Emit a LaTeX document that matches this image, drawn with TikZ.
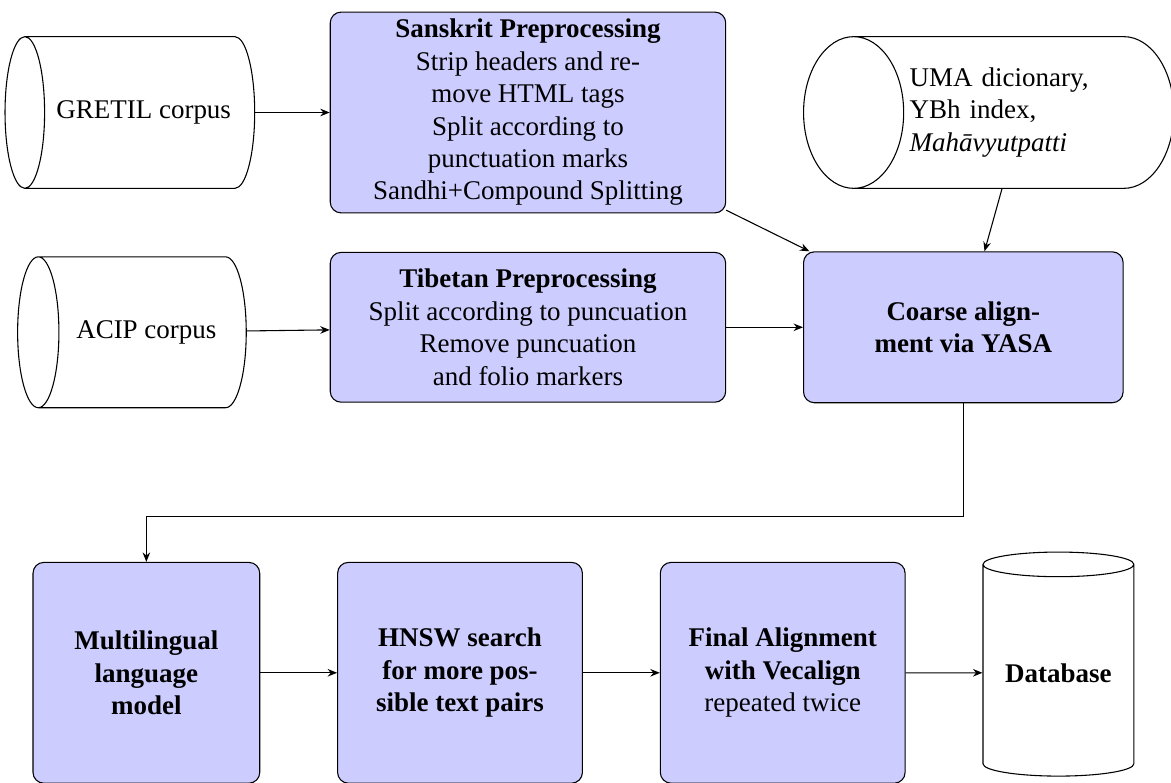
\documentclass[tikz,border=0pt]{standalone}
\usepackage{fontspec}
\setmainfont{Liberation Serif}
\usetikzlibrary{arrows.meta,positioning,shapes.geometric}

\begin{document}
\begin{tikzpicture}[
  node distance=0.5cm and 1cm,
  proc/.style={draw=black, fill=blue!20, rounded corners=4pt, align=center, inner sep=2pt},
  corpus/.style={draw=black, cylinder, shape border rotate=180, align=center, inner sep=2pt},
  store/.style={draw=black, cylinder, shape border rotate=90, align=center, inner sep=2pt},
  arr/.style={-{Stealth[length=3.5pt,width=2.8pt]}, draw=black}
]
\useasboundingbox (-6.875,1.465) rectangle (8.373,-8.730);
% preprocessing
\node[proc, minimum width=146.5pt, minimum height=74.4pt] (sanskrit) {\textbf{Sanskrit Preprocessing}\\ Strip headers and re-\\ move HTML tags\\ Split according to\\ punctuation marks\\ Sandhi+Compound Splitting};
\node[proc, below=of sanskrit, minimum width=146.5pt, minimum height=55.5pt] (tibetan) {\textbf{Tibetan Preprocessing}\\ Split according to puncuation\\ Remove puncuation\\ and folio markers};
\node[proc, right=of tibetan, minimum width=118.4pt, minimum height=55.9pt] (coarse) {\textbf{Coarse align-}\\ \textbf{ment via YASA}};
% sources
\node[corpus, left=0.97cm of sanskrit, minimum height=92.5pt, minimum width=56.2pt, shape aspect=1.15] (gretil) {GRETIL corpus};
\node[corpus, left=1.08cm of tibetan, yshift=-0.065cm, minimum height=84.7pt, minimum width=55.9pt, shape aspect=1.2] (acip) {ACIP corpus};
\node[corpus, right=of sanskrit, align=left, text width=2.96cm, minimum height=136.2pt, minimum width=56.2pt, shape aspect=1] (uma) {UMA dicionary,\\ YBh index,\\ \textit{Mahāvyutpatti}};
% second stage
\node[proc, below=2cm of acip, minimum width=84pt, minimum height=81.8pt] (multi) {\textbf{Multilingual}\\ \textbf{language}\\ \textbf{model}};
\node[proc, right=of multi, minimum width=90.7pt, minimum height=81.8pt] (hnsw) {\textbf{HNSW search}\\ \textbf{for more pos-}\\ \textbf{sible text pairs}};
\node[proc, right=of hnsw, minimum width=90.7pt, minimum height=81.8pt] (final) {\textbf{Final Alignment}\\ \textbf{with Vecalign}\\ repeated twice};
\node[store, right=of final, minimum width=55.9pt, minimum height=83pt, shape aspect=0.21] (db) {\textbf{Database}};
\draw[arr] (gretil) -- (sanskrit);
\draw[arr] (acip) -- (tibetan);
\draw[arr] (tibetan) -- (coarse);
\draw[arr] (sanskrit) -- (coarse);
\draw[arr] (uma) -- (coarse);
\draw[arr] (coarse.south) -- ++(0,-1.48) -| (multi.north);
\draw[arr] (multi) -- (hnsw);
\draw[arr] (hnsw) -- (final);
\draw[arr] (final) -- (db);
\end{tikzpicture}
\end{document}
